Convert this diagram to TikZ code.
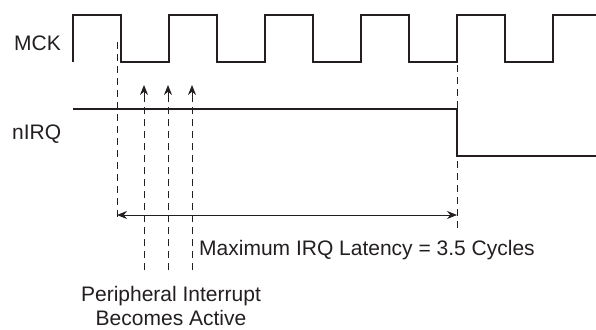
\documentclass[tikz,border=0pt]{standalone}
\usepackage{fontspec}
\setmainfont{Liberation Sans}
\usetikzlibrary{arrows.meta}
\definecolor{ink}{HTML}{231F20}
\begin{document}
\begin{tikzpicture}[x=1pt,y=-1pt,
  wave/.style={draw=ink,line width=1.6pt,line join=miter},
  guide/.style={draw=ink,line width=1pt,dash pattern=on 7pt off 5pt},
  tip/.style={-{Stealth[length=10pt,width=8pt]}},
  lbl/.style={inner sep=0pt,text=ink,font=\fontsize{21}{24}\selectfont}]
\useasboundingbox (0,0) rectangle (596,329);
% clock
\draw[wave] (73,62) -- (73,15) -- (121,15) -- (121,62) -- (169,62) -- (169,15) -- (217,15) -- (217,62)
  -- (265,62) -- (265,15) -- (313,15) -- (313,62) -- (361,62) -- (361,15) -- (409,15) -- (409,62)
  -- (457,62) -- (457,15) -- (505,15) -- (505,62) -- (553,62) -- (553,15) -- (596,15);
% nIRQ
\draw[wave] (73,109) -- (457,109) -- (457,156) -- (596,156);
% labels
\node[lbl,anchor=base west] (mck) at (14,51) {MCK};
\node[lbl,anchor=base west] (nirq) at (12,139) {nIRQ};
% guides
\coordinate (g1t) at (117,42); \coordinate (g1b) at (117,219);
\coordinate (g2t) at (457,65); \coordinate (g2b) at (457,229);
\draw[guide] (g1t) -- (g1b);
\draw[guide] (g2t) -- (g2b);
\foreach \i/\x in {a/144,b/168,c/192}{
  \coordinate (p\i b) at (\x,270);
  \coordinate (p\i m) at (\x,100);
  \coordinate (p\i t) at (\x,85);
  \draw[guide] (p\i b) -- (p\i m);
  \draw[draw=ink,line width=1pt,tip] (p\i m) -- (p\i t);
}
% latency arrow
\coordinate (la) at (117,215); \coordinate (lb) at (457,215);
\draw[draw=ink,line width=1pt,{Stealth[length=10pt,width=8pt]}-{Stealth[length=10pt,width=8pt]}] (la) -- (lb);
\node[lbl,anchor=base west] (lat) at (199,255) {Maximum IRQ Latency = 3.5 Cycles};
\node[lbl,anchor=base,align=center] (per) at (171,325) {Peripheral Interrupt\\Becomes Active};
\end{tikzpicture}
\end{document}
